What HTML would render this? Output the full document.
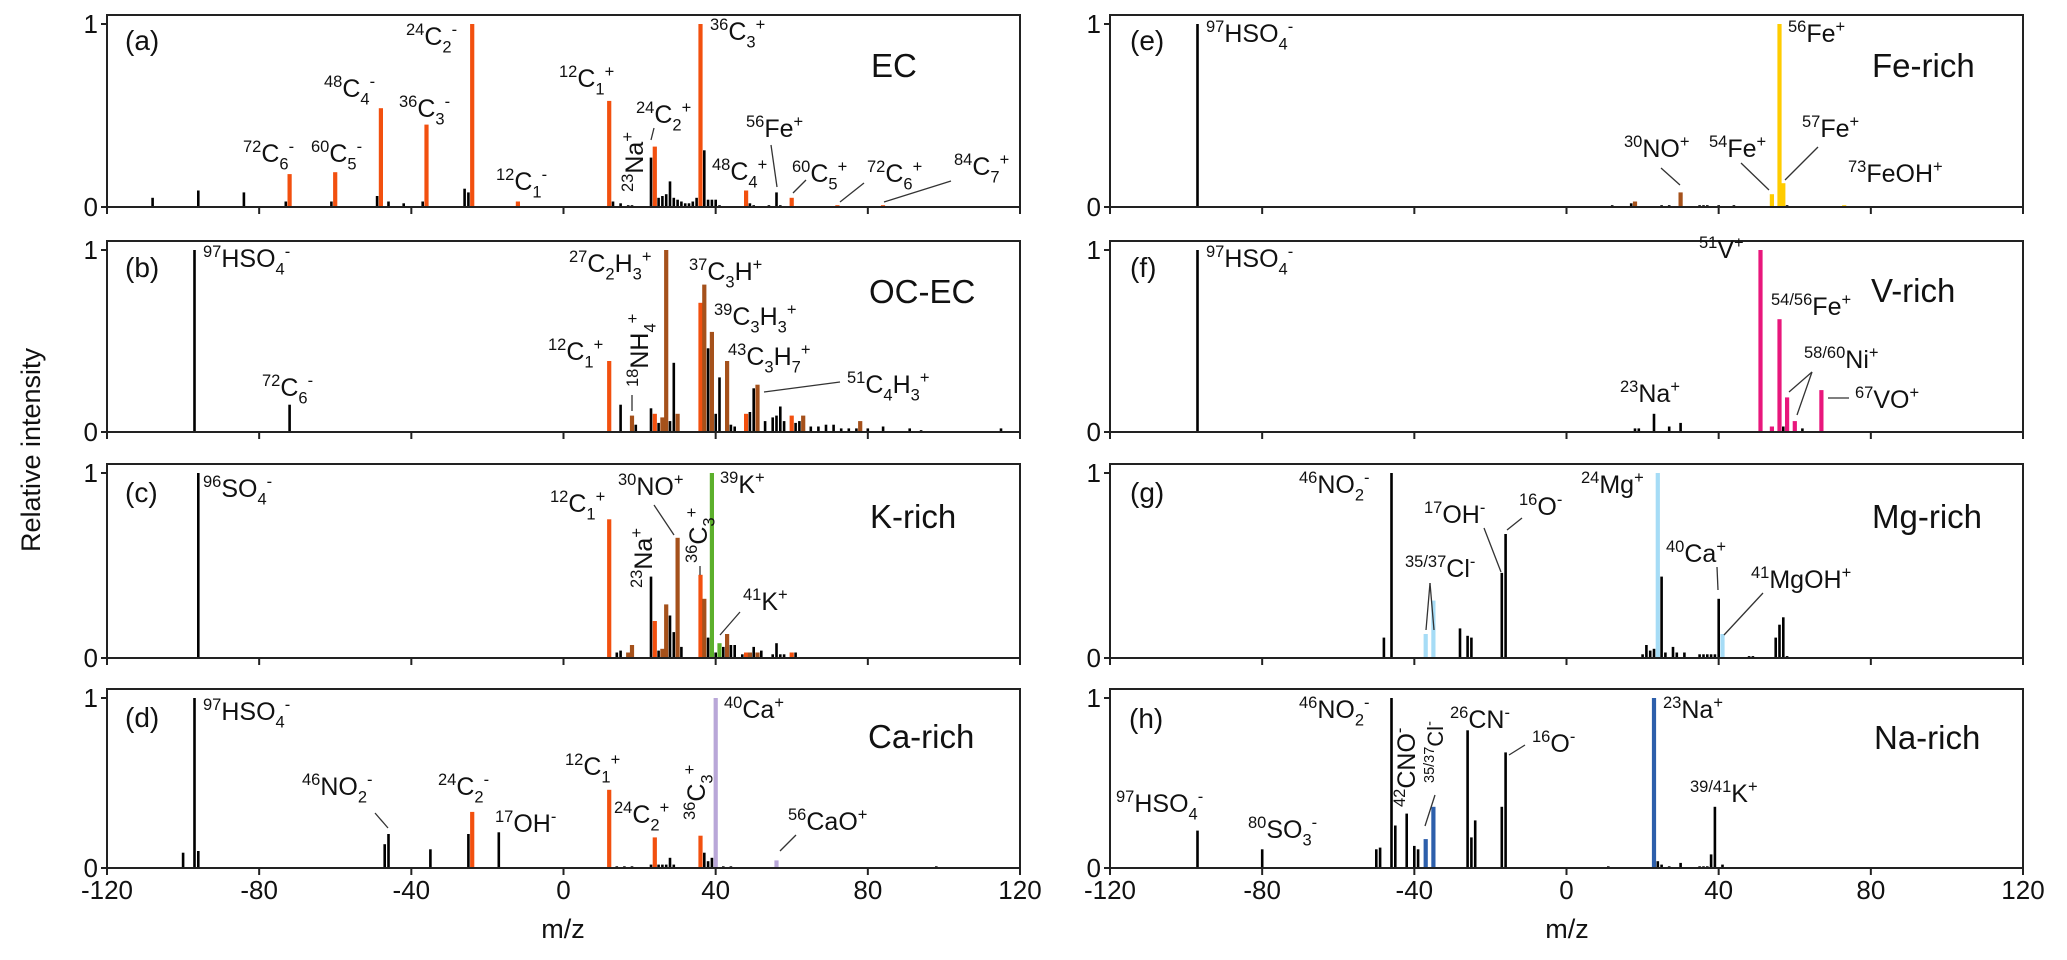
<!DOCTYPE html>
<html><head><meta charset="utf-8"><style>
html,body{margin:0;padding:0;background:#fff;}
svg{display:block;font-family:"Liberation Sans",sans-serif;}
</style></head><body>
<svg id="chart" width="2067" height="960" viewBox="0 0 2067 960" xmlns="http://www.w3.org/2000/svg"></svg>
<script>
// ---- data (m/z, relative intensity, colour class) ----
const aMz=[-108,-96,-84,-73,-72,-61,-60,-49,-48,-46,-42,-37,-36,-26,-25,-24,-12,12,13,15,17,18,23,24,25,26,27,28,29,30,31,32,33,34,35,36,37,38,39,40,41,48,49,50,54,56,57,60,72,84];
const aVal=[0.05,0.09,0.08,0.03,0.18,0.03,0.19,0.06,0.54,0.03,0.02,0.03,0.45,0.1,0.08,1.0,0.03,0.58,0.03,0.02,0.01,0.01,0.27,0.33,0.05,0.06,0.07,0.14,0.05,0.04,0.03,0.02,0.02,0.03,0.05,1.0,0.31,0.04,0.04,0.04,0.01,0.09,0.02,0.01,0.01,0.08,0.01,0.05,0.01,0.01];
const aCol=["k","k","k","k","o","k","o","k","o","k","k","k","o","k","k","o","o","o","k","k","k","k","k","o","k","k","k","k","k","k","k","k","k","k","k","o","k","k","k","k","k","o","k","k","k","k","k","o","o","o"];

const bMz=[-97,-72,12,15,18,19,23,24,25,26,27,28,29,30,36,37,38,39,40,41,43,44,45,48,49,50,51,53,55,56,57,58,60,61,62,63,65,67,69,71,73,75,77,78,80,84,91,94,115];
const bVal=[1.0,0.15,0.39,0.15,0.09,0.04,0.13,0.1,0.05,0.08,1.0,0.06,0.38,0.1,0.71,0.81,0.46,0.55,0.1,0.3,0.39,0.04,0.03,0.1,0.11,0.24,0.26,0.06,0.08,0.09,0.14,0.06,0.09,0.05,0.06,0.09,0.03,0.03,0.04,0.04,0.02,0.02,0.02,0.06,0.02,0.03,0.02,0.01,0.02];
const bCol=["k","k","o","k","b","k","k","o","k","b","b","k","k","b","o","b","k","b","k","k","b","k","k","o","k","k","b","k","k","k","k","k","o","k","k","b","k","k","k","k","k","k","k","b","k","k","k","k","k"];

const cMz=[-96,12,14,15,17,18,23,24,25,26,27,28,29,30,31,36,37,38,39,40,41,42,43,44,45,47,48,49,50,51,52,55,56,57,58,60,61];
const cVal=[1.0,0.75,0.03,0.04,0.03,0.07,0.44,0.2,0.04,0.05,0.29,0.23,0.14,0.65,0.06,0.45,0.32,0.11,1.0,0.03,0.08,0.06,0.13,0.07,0.07,0.02,0.03,0.03,0.06,0.03,0.04,0.02,0.08,0.02,0.02,0.03,0.03];
const cCol=["k","o","k","k","b","b","k","o","k","b","b","k","k","b","k","o","b","k","g","k","g","k","b","k","k","k","o","b","k","b","k","k","k","k","k","o","k"];

const dMz=[-100,-97,-96,-47,-46,-35,-25,-24,-17,12,14,16,18,23,24,25,26,27,28,29,36,37,38,39,40,42,44,56,98];
const dVal=[0.09,1.0,0.1,0.14,0.2,0.11,0.2,0.33,0.21,0.46,0.01,0.01,0.01,0.02,0.18,0.02,0.02,0.02,0.06,0.02,0.19,0.09,0.04,0.06,1.0,0.01,0.01,0.045,0.01];
const dCol=["k","k","k","k","k","k","k","o","k","o","k","k","k","k","o","k","k","k","k","k","o","k","k","k","l","k","k","l","k"];

const eMz=[-97,12,17,18,25,27,30,35,36,37,40,44,54,56,57,58,73];
const eVal=[1.0,0.01,0.02,0.03,0.01,0.01,0.08,0.01,0.01,0.01,0.01,0.01,0.07,1.0,0.13,0.01,0.01];
const eCol=["k","k","k","b","k","k","b","k","k","k","k","k","y","y","y","k","y"];

const fMz=[-97,18,19,23,27,30,51,54,56,57,58,60,62,67];
const fVal=[1.0,0.02,0.02,0.1,0.03,0.05,1.0,0.03,0.62,0.03,0.19,0.06,0.02,0.23];
const fCol=["k","k","k","k","k","k","p","p","p","k","p","p","k","p"];

const gMz=[-48,-46,-37,-35,-28,-26,-25,-17,-16,20,21,22,23,24,25,26,28,29,31,35,36,37,38,39,40,41,48,49,55,56,57,58];
const gVal=[0.11,1.0,0.13,0.31,0.16,0.12,0.11,0.46,0.67,0.02,0.07,0.04,0.05,1.0,0.44,0.03,0.06,0.03,0.03,0.02,0.02,0.02,0.02,0.02,0.32,0.13,0.01,0.01,0.11,0.18,0.22,0.01];
const gCol=["k","k","c","c","k","k","k","k","k","k","k","k","k","c","k","k","k","k","k","k","k","k","k","k","k","c","k","k","k","k","k","k"];

const hMz=[-97,-80,-50,-49,-46,-45,-42,-40,-39,-37,-35,-26,-25,-24,-17,-16,11,23,24,25,27,30,35,36,37,38,39,41];
const hVal=[0.22,0.11,0.11,0.12,1.0,0.25,0.32,0.13,0.11,0.17,0.36,0.81,0.18,0.28,0.36,0.68,0.01,1.0,0.04,0.02,0.01,0.03,0.01,0.01,0.01,0.08,0.36,0.02];
const hCol=["k","k","k","k","k","k","k","k","k","n","n","k","k","k","k","k","k","n","k","k","k","k","k","k","k","k","k","k"];

const xTicks=[-120,-80,-40,0,40,80,120];
const xTickLabels=["-120","-80","-40","0","40","80","120"];

// ---- rendering ----
const NS="http://www.w3.org/2000/svg";
const svg=document.getElementById('chart');
const colors={k:"#000",o:"#f2500f",b:"#a5511b",g:"#5cb02c",l:"#b9a7d8",y:"#ffcc00",p:"#e8177c",c:"#a6dcf6",n:"#2d5fab"};
function mk(tag,attrs,parent){const e=document.createElementNS(NS,tag);for(const k in attrs)e.setAttribute(k,attrs[k]);(parent||svg).appendChild(e);return e;}

const panels=[
 {id:"a",mz:aMz,val:aVal,col:aCol,x0:107,y1:24,y0:207},
 {id:"b",mz:bMz,val:bVal,col:bCol,x0:107,y1:250,y0:432},
 {id:"c",mz:cMz,val:cVal,col:cCol,x0:107,y1:473,y0:658},
 {id:"d",mz:dMz,val:dVal,col:dCol,x0:107,y1:698,y0:868},
 {id:"e",mz:eMz,val:eVal,col:eCol,x0:1110,y1:24,y0:207},
 {id:"f",mz:fMz,val:fVal,col:fCol,x0:1110,y1:250,y0:432},
 {id:"g",mz:gMz,val:gVal,col:gCol,x0:1110,y1:473,y0:658},
 {id:"h",mz:hMz,val:hVal,col:hCol,x0:1110,y1:698,y0:868}
];
const W=913;
panels.forEach(p=>{
  const g=mk('g',{});
  
  
  const xs=m=>p.x0+(m+120)/240*W;
  const ys=v=>p.y0-v*(p.y0-p.y1);
  p.mz.forEach((m,i)=>{
    const c=p.col[i];
    const w=c==="k"?2.6:4.2;
    const h=p.val[i]*(p.y0-p.y1);
    const r=mk('rect',{x:(xs(m)-w/2).toFixed(1),y:ys(p.val[i]).toFixed(1),width:w,height:Math.max(h,1).toFixed(1),fill:colors[c]},g);
    
    
  });
  const fr=mk('rect',{x:p.x0,y:p.y1-9,width:W,height:p.y0-p.y1+9,fill:"none",stroke:"#222","stroke-width":2},g);
  
  
  [[0,"0"],[1,"1"]].forEach(t=>{
    mk('line',{x1:p.x0-6,x2:p.x0,y1:ys(t[0]),y2:ys(t[0]),stroke:"#222","stroke-width":2},g);
    const tx=mk('text',{x:p.x0-9,y:ys(t[0])+9,"font-size":26,"text-anchor":"end",fill:"#111"},g);
    tx.textContent=t[1];
    
    
  });
  xTicks.forEach((t,i)=>{
    mk('line',{x1:xs(t),x2:xs(t),y1:p.y0,y2:p.y0+7,stroke:"#222","stroke-width":2},g);
    if(p.id==="d"||p.id==="h"){
      const tx=mk('text',{x:xs(t),y:p.y0+31,"font-size":26,"text-anchor":"middle",fill:"#111"},g);
      tx.textContent=xTickLabels[i];
      
      
    }
  });
});

function lab(x,y,s,fs,rot,name){
  fs=fs||25;
  const t=mk('text',{x:x,y:y,"font-size":fs,fill:"#111"});
  if(rot) t.setAttribute('transform','rotate(-90 '+x+' '+y+')');
  
  
  let i=0,mode=null,buf="";const parts=[];
  while(i<s.length){const ch=s[i];
    if(ch==='^'||ch==='_'){ if(buf)parts.push([mode,buf]);buf="";mode=ch;i++;
      let tok="";while(i<s.length&&s[i]!=='|'){tok+=s[i];i++;} if(s[i]==='|')i++; parts.push([mode,tok]);mode=null;continue;}
    buf+=ch;i++;}
  if(buf)parts.push([null,buf]);
  let prev=null;
  parts.forEach(pp=>{const ts=mk('tspan',{},t);
    const lvl=pp[0]==='^'?-0.4:pp[0]==='_'?0.3:0;const pl=prev===null?0:prev;
    const dy=(lvl-pl)*fs; if(dy)ts.setAttribute('dy',dy.toFixed(1));
    if(pp[0])ts.setAttribute('font-size',(fs*0.66).toFixed(1));
    ts.textContent=pp[1];prev=lvl;});
  return t;
}
function ln(x1,y1,x2,y2){const l=mk('line',{x1,y1,x2,y2,stroke:"#333","stroke-width":1.3});}

[["(a)",125,50],["(b)",125,277],["(c)",125,502],["(d)",125,727],["(e)",1130,50],["(f)",1130,277],["(g)",1130,502],["(h)",1129,728]].forEach(a=>lab(a[1],a[2],a[0],28,false,'panel-letter'));
[["EC",871,77],["OC-EC",869,303],["K-rich",870,528],["Ca-rich",868,748],["Fe-rich",1872,77],["V-rich",1871,302],["Mg-rich",1872,528],["Na-rich",1874,749]].forEach(a=>lab(a[1],a[2],a[0],33,false,'class-title'));

// (a)
lab(243,162,"^72|C_6|^-|");lab(311,162,"^60|C_5|^-|");lab(324,97,"^48|C_4|^-|");lab(399,117,"^36|C_3|^-|");
lab(406,45,"^24|C_2|^-|");lab(496,190,"^12|C_1|^-|");lab(559,87,"^12|C_1|^+|");lab(636,123,"^24|C_2|^+|");
lab(643,192,"^23|Na^+|",25,true);ln(654,128,651,140);
lab(710,40,"^36|C_3|^+|");lab(712,180,"^48|C_4|^+|");lab(746,137,"^56|Fe^+|");ln(771,145,777,187);
lab(792,182,"^60|C_5|^+|");ln(806,180,793,193);lab(867,182,"^72|C_6|^+|");ln(864,183,840,202);
lab(954,175,"^84|C_7|^+|");ln(951,181,884,202);
// (b)
lab(203,267,"^97|HSO_4|^-|");lab(262,396,"^72|C_6|^-|");lab(569,272,"^27|C_2|H_3|^+|");lab(689,280,"^37|C_3|H^+|");
lab(714,325,"^39|C_3|H_3|^+|");lab(728,365,"^43|C_3|H_7|^+|");lab(847,393,"^51|C_4|H_3|^+|");ln(840,382,764,392);
lab(548,360,"^12|C_1|^+|");lab(648,387,"^18|NH_4|^+|",25,true);ln(632,395,632,411);
// (c)
lab(203,497,"^96|SO_4|^-|");lab(550,512,"^12|C_1|^+|");lab(618,495,"^30|NO^+|");ln(654,505,674,535);
lab(652,588,"^23|Na^+|",25,true);lab(707,563,"^36|C_3|^+|",25,true);ln(700,566,700,575);
lab(720,493,"^39|K^+|");lab(743,610,"^41|K^+|");ln(740,612,720,635);
// (d)
lab(203,720,"^97|HSO_4|^-|");lab(302,795,"^46|NO_2|^-|");ln(375,813,388,828);lab(438,795,"^24|C_2|^-|");
lab(495,832,"^17|OH^-|");lab(565,775,"^12|C_1|^+|");lab(614,823,"^24|C_2|^+|");lab(705,820,"^36|C_3|^+|",25,true);
lab(724,718,"^40|Ca^+|");lab(788,830,"^56|CaO^+|");ln(796,835,780,851);
// (e)
lab(1206,42,"^97|HSO_4|^-|");lab(1788,42,"^56|Fe^+|");lab(1624,157,"^30|NO^+|");ln(1661,168,1680,185);
lab(1709,157,"^54|Fe^+|");ln(1741,163,1769,190);lab(1802,137,"^57|Fe^+|");ln(1818,147,1785,180);lab(1848,182,"^73|FeOH^+|");
// (f)
lab(1206,267,"^97|HSO_4|^-|");lab(1699,258,"^51|V^+|");lab(1771,315,"^54/56|Fe^+|");lab(1804,368,"^58/60|Ni^+|");
ln(1812,372,1789,392);ln(1812,372,1797,415);lab(1620,402,"^23|Na^+|");lab(1855,408,"^67|VO^+|");ln(1828,398,1849,398);
// (g)
lab(1299,493,"^46|NO_2|^-|");lab(1581,493,"^24|Mg^+|");lab(1424,523,"^17|OH^-|");ln(1484,528,1501,572);
lab(1519,515,"^16|O^-|");ln(1522,518,1507,530);lab(1405,577,"^35/37|Cl^-|");ln(1430,583,1426,630);ln(1430,583,1434,630);
lab(1666,562,"^40|Ca^+|");ln(1717,567,1718,590);lab(1751,588,"^41|MgOH^+|");ln(1763,593,1724,635);
// (h)
lab(1299,718,"^46|NO_2|^-|");lab(1415,807,"^42|CNO^-|",25,true);lab(1443,783,"^35/37|Cl^-|",22,true);ln(1435,795,1425,826);
lab(1450,728,"^26|CN^-|");lab(1532,752,"^16|O^-|");ln(1525,745,1509,755);lab(1663,718,"^23|Na^+|");
lab(1690,802,"^39/41|K^+|");lab(1116,812,"^97|HSO_4|^-|");lab(1248,838,"^80|SO_3|^-|");

let t=mk('text',{x:563,y:938,"font-size":27,"text-anchor":"middle",fill:"#111"});t.textContent="m/z";

t=mk('text',{x:1567,y:938,"font-size":27,"text-anchor":"middle",fill:"#111"});t.textContent="m/z";

t=mk('text',{x:40,y:450,"font-size":27,"text-anchor":"middle",fill:"#111",transform:"rotate(-90 40 450)"});t.textContent="Relative intensity";

</script>
</body></html>
